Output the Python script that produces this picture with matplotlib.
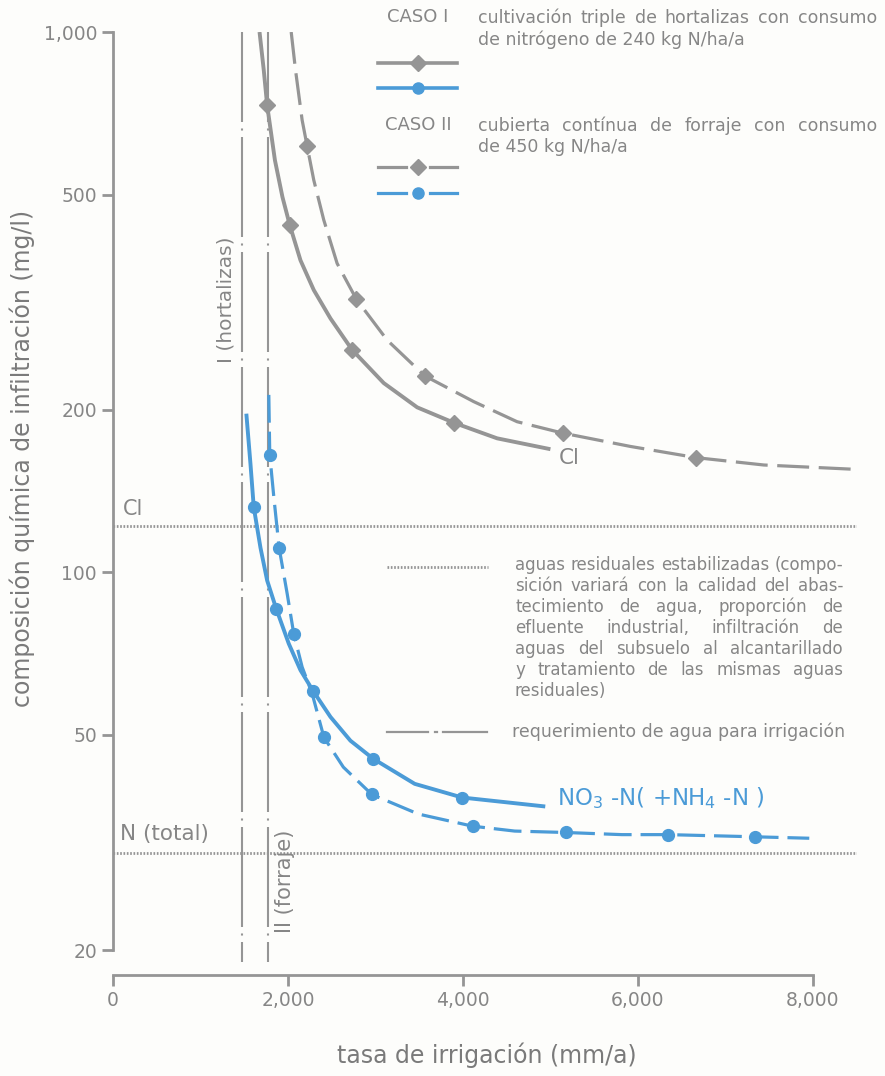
import matplotlib
matplotlib.use("Agg")
import matplotlib.pyplot as plt
from matplotlib.lines import Line2D
from matplotlib.ticker import FixedLocator, FixedFormatter, NullLocator

GREY = "#959595"
TEXT = "#868686"
BLUE = "#4b9bd7"

# CASO I, Cl (grey solid)
c1_cl_x = [1675, 1723, 1762, 1851, 1937, 2021, 2143, 2295, 2486, 2734, 3095, 3477, 3903, 4391, 5000]
c1_cl_y = [1000, 851, 732, 579, 495, 439, 378, 333, 295, 258, 224, 202, 189, 177, 169]
c1_cl_mx = [1762, 2021, 2734, 3903]
c1_cl_my = [732, 439, 258, 189]

# CASO II, Cl (grey dashed)
c2_cl_x = [2037, 2086, 2162, 2219, 2295, 2409, 2562, 2783, 3134, 3563, 4123, 4619, 5141,
           5914, 6669, 7438, 8520]
c2_cl_y = [1000, 851, 687, 615, 532, 449, 373, 320, 269, 231, 207, 190, 181,
           171, 163, 158, 155]
c2_cl_mx = [2219, 2783, 3563, 5141, 6669]
c2_cl_my = [615, 320, 231, 181, 163]

# CASO I, NO3-N (blue solid)
c1_n_x = [1526, 1571, 1609, 1686, 1762, 1865, 2009, 2143, 2288, 2486, 2714, 2973, 3449, 3992, 4919]
c1_n_y = [195, 159, 132, 111, 96.6, 85.7, 73.8, 65.9, 60.3, 54.0, 48.8, 45.2, 40.6, 38.3, 36.9]
c1_n_mx = [1609, 1865, 2288, 2973, 3992]
c1_n_my = [132, 85.7, 60.3, 45.2, 38.3]

# CASO II, NO3-N (blue dashed)
c2_n_x = [1781, 1792, 1838, 1899, 1991, 2066, 2162, 2277, 2411, 2633, 2959, 3490, 4110,
          4592, 5176, 5816, 6347, 7335, 7959]
c2_n_y = [213, 165, 138, 111, 91.3, 77.0, 66.8, 59.6, 49.5, 43.6, 38.8, 35.7, 33.9,
          33.2, 33.0, 32.7, 32.7, 32.4, 32.2]
c2_n_mx = [1792, 1899, 2066, 2411, 2959, 4110, 5176, 6347, 7335]
c2_n_my = [165, 111, 77.0, 49.5, 38.8, 33.9, 33.0, 32.7, 32.4]

# reference levels in stabilized wastewater
cl_level = 122
n_level = 30.2

# irrigation water requirement
req_hortalizas = 1480
req_forraje = 1777

xticks = [0, 2000, 4000, 6000, 8000]
xticklabels = ["0", "2,000", "4,000", "6,000", "8,000"]
yticks = [20, 50, 100, 200, 500, 1000]
yticklabels = ["20", "50", "100", "200", "500", "1,000"]

W, H = 885, 1076


def fx(px):
    return px / W


def fy(py):
    return 1 - py / H


fig = plt.figure(figsize=(8.85, 10.76), dpi=100, facecolor="#fdfdfb")
ax = fig.add_axes([fx(113), fy(950), fx(856.6) - fx(113), fy(32) - fy(950)])
ax.set_facecolor("none")
ax.set_yscale("log")
ax.set_xlim(0, 8500)
ax.set_ylim(20, 1000)

# drawn top-down so the dash pattern starts at the top like the original
dashdot = (4.8, (48, 3.1, 1, 3.1))
ax.plot([req_hortalizas] * 2, [1000, 19.0], color=GREY, lw=1.5, ls=dashdot, clip_on=False)
ax.plot([req_forraje] * 2, [1000, 19.0], color=GREY, lw=1.5, ls=dashdot, clip_on=False)
ax.axhline(cl_level, color=GREY, lw=2, ls=(0, (0.6, 0.6)))
ax.axhline(n_level, color=GREY, lw=2, ls=(0, (0.6, 0.6)))

ax.plot(c1_cl_x, c1_cl_y, color=GREY, lw=2.8, solid_capstyle="butt", solid_joinstyle="round")
ax.plot(c1_cl_mx, c1_cl_my, ls="none", marker="D", ms=8, color=GREY)
ax.plot(c2_cl_x, c2_cl_y, color=GREY, lw=2.3, ls=(0, (10, 3)), dash_joinstyle="round")
ax.plot(c2_cl_mx, c2_cl_my, ls="none", marker="D", ms=8, color=GREY)

ax.plot(c1_n_x, c1_n_y, color=BLUE, lw=2.8, solid_joinstyle="round")
ax.plot(c1_n_mx, c1_n_my, ls="none", marker="o", ms=8.5, color=BLUE)
ax.plot(c2_n_x, c2_n_y, color=BLUE, lw=2.3, ls=(0, (8.7, 2.8)), dash_joinstyle="round")
ax.plot(c2_n_mx, c2_n_my, ls="none", marker="o", ms=8.5, color=BLUE)

ax.text(110, 122 * 1.045, "Cl", color=TEXT, fontsize=15)
ax.text(80, 30.2 * 1.06, "N (total)", color=TEXT, fontsize=15.5)
ax.text(5100, 163, "Cl", color=TEXT, fontsize=15.5, va="center")
ax.text(5080, 38.2, "NO$_3$ -N( +NH$_4$ -N )", color=BLUE, fontsize=16.5, va="center")
ax.text(1286, 319, "I (hortalizas)", color=TEXT, fontsize=14.5, rotation=90,
        ha="center", va="center")
ax.text(1971, 26.8, "II (forraje)", color=TEXT, fontsize=15, rotation=90,
        ha="center", va="center")

for s in ["top", "right"]:
    ax.spines[s].set_visible(False)
for s in ["left", "bottom"]:
    ax.spines[s].set_color(GREY)
    ax.spines[s].set_linewidth(2)
ax.spines["bottom"].set_position(("outward", 18))
ax.spines["bottom"].set_bounds(0, 8000)

ax.yaxis.set_major_locator(FixedLocator(yticks))
ax.yaxis.set_major_formatter(FixedFormatter(yticklabels))
ax.yaxis.set_minor_locator(NullLocator())
ax.set_xticks(xticks)
ax.set_xticklabels(xticklabels)
ax.tick_params(axis="both", colors=GREY, labelcolor=TEXT, labelsize=13.5,
               length=8, width=2)

fig.text(fx(22), fy(458), "composición química de infiltración (mg/l)", color="#7a7a7a",
         fontsize=17, rotation=90, ha="center", va="center")
fig.text(fx(487), fy(1055), "tasa de irrigación (mm/a)", color="#7a7a7a",
         fontsize=17, ha="center", va="center")

renderer = fig.canvas.get_renderer()


def justified(lines, x0, x1, y0, pitch, **kw):
    # spread words over the full width, last line left as is
    for i, line in enumerate(lines):
        yy = fy(y0 + i * pitch)
        words = line.split()
        if i == len(lines) - 1 or len(words) < 2:
            fig.text(fx(x0), yy, line, **kw)
            continue
        arts = [fig.text(0, yy, w, **kw) for w in words]
        widths = [a.get_window_extent(renderer).width for a in arts]
        gap = (x1 - x0 - sum(widths)) / (len(words) - 1)
        pos = x0
        for a, wd in zip(arts, widths):
            a.set_x(fx(pos))
            pos += wd + gap


# legend block, top right
lg = dict(color=TEXT, fontsize=12.5, va="center")
fig.text(fx(387), fy(17), "CASO I", color=TEXT, fontsize=13, va="center")
fig.text(fx(385), fy(125), "CASO II", color=TEXT, fontsize=13, va="center")
justified(["cultivación triple de hortalizas con consumo", "de nitrógeno de 240 kg N/ha/a"],
          478, 877, 18, 22, **lg)
justified(["cubierta contínua de forraje con consumo", "de 450 kg N/ha/a"],
          478, 877, 126, 21, **lg)

for yy, col, mk in [(63, GREY, "D"), (88, BLUE, "o")]:
    fig.add_artist(Line2D([fx(378), fx(457)], [fy(yy)] * 2, color=col, lw=2.6,
                          transform=fig.transFigure))
    fig.add_artist(Line2D([fx(418)], [fy(yy)], color=col, marker=mk, ms=8, ls="none",
                          transform=fig.transFigure))
for yy, col, mk in [(167, GREY, "D"), (193, BLUE, "o")]:
    fig.add_artist(Line2D([fx(378), fx(406)], [fy(yy)] * 2, color=col, lw=2.3,
                          transform=fig.transFigure))
    fig.add_artist(Line2D([fx(430), fx(457)], [fy(yy)] * 2, color=col, lw=2.3,
                          transform=fig.transFigure))
    fig.add_artist(Line2D([fx(418)], [fy(yy)], color=col, marker=mk, ms=8, ls="none",
                          transform=fig.transFigure))

fig.add_artist(Line2D([fx(387), fx(488)], [fy(567)] * 2, color=GREY, lw=2,
                      ls=(0, (0.6, 0.6)), transform=fig.transFigure))
justified(["aguas residuales estabilizadas (compo-",
           "sición variará con la calidad del abas-",
           "tecimiento de agua, proporción de",
           "efluente industrial, infiltración de",
           "aguas del subsuelo al alcantarillado",
           "y tratamiento de las mismas aguas",
           "residuales)"],
          515, 843, 565, 21, color=TEXT, fontsize=12, va="center")

fig.add_artist(Line2D([fx(387), fx(428)], [fy(732)] * 2, color=GREY, lw=1.6,
                      transform=fig.transFigure))
fig.add_artist(Line2D([fx(434.5), fx(436.5)], [fy(732)] * 2, color=GREY, lw=1.6,
                      transform=fig.transFigure))
fig.add_artist(Line2D([fx(443), fx(487)], [fy(732)] * 2, color=GREY, lw=1.6,
                      transform=fig.transFigure))
fig.text(fx(512), fy(732), "requerimiento de agua para irrigación", color=TEXT,
         fontsize=12.5, va="center")

fig.savefig("out.png", dpi=100, facecolor=fig.get_facecolor())
